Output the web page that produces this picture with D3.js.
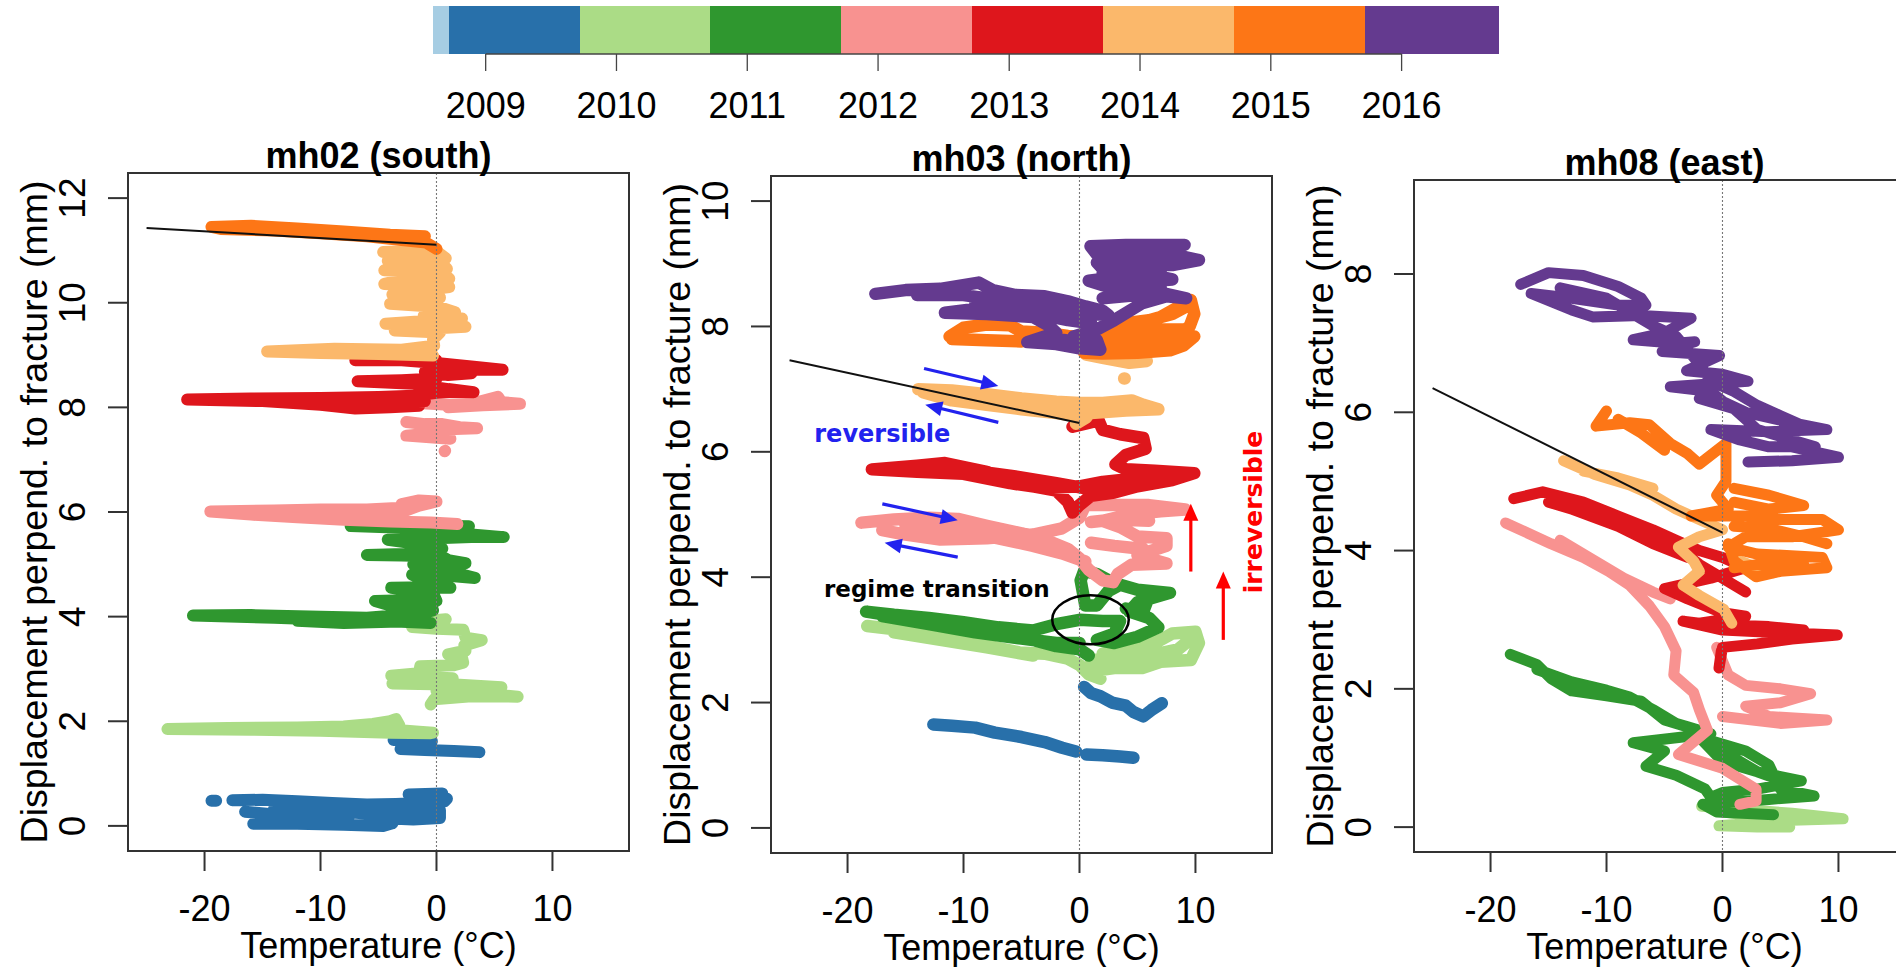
<!DOCTYPE html>
<html>
<head>
<meta charset="utf-8">
<script src="https://cdn.jsdelivr.net/npm/d3@7"></script>
<style>
  html, body { margin: 0; padding: 0; background: #fff; }
  svg { display: block; }
</style>
</head>
<body>
<svg id="chart" width="1896" height="967"></svg>
<script>
// ---------------- data ----------------
const years = [2009, 2010, 2011, 2012, 2013, 2014, 2015, 2016];
const yearColors = ["#2870aa", "#abdc86", "#2f972f", "#f89290", "#de161c", "#fbb86b", "#fd7616", "#643a8f"];
const preSeasonColor = "#a6cde3";
const recordStart = new Date(2008, 7, 7);
const recordEnd = new Date(2016, 8, 26);
const seasonMonth = 8, seasonDay = 20;   // measurement seasons start around 20 September

const panelTitles = ["mh02 (south)", "mh03 (north)", "mh08 (east)"];
const xLim = [-25, 15];
const xTicks = [-20, -10, 0, 10];
const yLims = [[0, 12], [0, 10], [0, 9]];
const yTicks = [[0, 2, 4, 6, 8, 10, 12], [0, 2, 4, 6, 8, 10], [0, 2, 4, 6, 8]];
const xTitle = "Temperature (°C)";
const yTitle = "Displacement perpend. to fracture (mm)";

// [temperature °C, displacement mm]; null separates recording gaps
const mh02 = [
  [[-19.4,0.48],[-19.0,0.48], null,
   [-17.6,0.49],[-15,0.5],[-12,0.47],[-9,0.44],[-6,0.41],[-3.5,0.42],[-1,0.44],[0.7,0.47],[0.9,0.52],[-1,0.57],[-2.4,0.6],[0.5,0.62], null,
   [-16.5,0.27],[-14,0.22],[-11,0.2],[-8,0.19],[-7.5,0.2],[-8.5,0.3],[-11,0.35],[-13.5,0.4],[-11,0.42],[-9,0.4],[-7,0.35],[-5,0.3],[-4,0.34],[-1,0.33],[0.3,0.3],[0.3,0.15],[-2,0.12],[-4,0.14],[-3.8,0.05],[-4.6,0.0],[-8,0.02],[-12,0.04],[-15.8,0.04], null,
   [-14,0.33],[-12,0.3],[-9,0.28],[-7,0.25],[-5,0.22],[-3,0.22],[-1,0.22], null,
   [-3.7,1.64],[-1.5,1.64],[-0.4,1.62],[-0.6,1.52],[-2,1.48],[-3.1,1.47],[-1,1.45],[1.5,1.43],[3.7,1.41]],
  [[-0.5,1.77],[-4,1.78],[-10,1.82],[-16,1.84],[-23.2,1.85],[-18,1.87],[-12,1.88],[-8,1.9],[-5.5,1.95],[-4,2.0],[-3.5,2.04],[-3.2,1.92],[-4.5,1.85],[-1.5,1.8],[-0.3,1.78], null,
   [-0.5,2.32],[-0.2,2.42],[3,2.48],[7,2.47],[3,2.55],[0,2.58],[4,2.63],[5.6,2.65],[2,2.7],[-3.8,2.72],[-1,2.78],[1.4,2.82],[-3.9,2.87],[-1.5,2.92],[-1.4,3.05],[1.5,3.07],[2.3,3.12],[2.2,3.22],[1,3.28],[2.5,3.35],[2.4,3.45],[3.9,3.55],[2.5,3.6],[2.3,3.75],[0,3.77],[-2.1,3.8],[-0.5,3.85],[-0.2,3.93],[0.8,3.95]],
  [[-0.5,3.88],[-3,3.9],[-8,3.93],[-14,3.98],[-21,4.02],[-16,4.03],[-10,4.0],[-6,3.98],[-3,4.03],[-1,4.08],[-0.3,4.12],[-3,4.15],[-5.3,4.3],[-2,4.32],[0,4.3],[-0.3,4.45],[-3.9,4.55],[-1,4.56],[1.2,4.55],[-0.5,4.65],[-2.1,4.8],[1,4.78],[3.3,4.74],[0.5,4.9],[-2,5.0],[0,5.02],[2.5,5.02],[1,5.08],[0.5,5.15],[-3,5.17],[-6,5.18],[-2,5.2],[0.5,5.3],[-2,5.4],[-4.2,5.47],[0,5.5],[3,5.52],[5.8,5.52],[3,5.57],[2,5.62],[-3,5.7],[-7.4,5.73],[-3,5.74],[2.8,5.73], null,
   [-12,3.92],[-8,3.88],[-4,3.9],[-1.5,3.95]],
  [[1.8,5.77],[-0.5,5.8],[-4,5.82],[-8,5.85],[-12,5.9],[-16,5.95],[-19.5,6.01],[-14,6.03],[-10,6.05],[-6,6.05],[-3,6.08],[-3,6.15],[-1.5,6.22],[0,6.2],[-1.5,6.12],[-3,6.0],[-6,5.95],[-10,5.92], null,
   [-2.6,7.72],[-1,7.68],[0.5,7.68],[2,7.62],[3.5,7.6],[1,7.58],[0.5,7.52],[-2.6,7.46],[0,7.42],[1.2,7.4], null,
   [0.7,7.16],[0.75,7.17], null,
   [-1.2,8.08],[1,8.05],[3,8.07],[5.3,8.2],[5.6,8.1],[7.2,8.07],[4,8.04],[1,8.0]],
  [[-1.5,8.03],[-4,8.0],[-7,7.98],[-10,8.05],[-15,8.12],[-21.5,8.15],[-16,8.17],[-10,8.18],[-5,8.2],[-2,8.22],[0,8.28],[1.5,8.3],[3.2,8.29],[1,8.35],[-2,8.45],[-6.8,8.5],[-3,8.52],[0,8.55],[-1,8.62],[0.5,8.7],[3,8.72],[5.7,8.72],[3,8.78],[0,8.85],[-3,8.9],[-7,8.9],[-3,8.93],[0,8.9], null,
   [-7,8.1],[-4,8.1],[-1,8.12], null, [-1,8.68],[1,8.62],[3,8.65]],
  [[-0.5,11.0],[-4.6,10.97],[0.2,10.95],[0.8,10.85],[-4.2,10.8],[0.4,10.76],[0.9,10.65],[-4.5,10.62],[0.6,10.56],[1.1,10.46],[-2.5,10.46],[-4.5,10.36],[1.1,10.3],[-3.8,10.16],[0.3,10.1],[-4,9.98],[0.2,9.92],[1.6,9.82],[-1.1,9.75],[2.2,9.7],[-4.4,9.6],[2.5,9.54],[-3.6,9.47],[0.3,9.43],[-0.3,9.3],[-0.2,9.18],[-3,9.1],[-8.8,9.12],[-14.6,9.07],[-10,9.04],[-5,9.02],[-0.3,8.99]],
  [[0,11.03],[-0.9,11.15],[-3,11.2],[-6,11.27],[-10,11.33],[-14,11.38],[-18.6,11.41],[-19.4,11.45],[-16,11.47],[-12,11.42],[-8,11.36],[-4,11.3],[-1,11.27]],
  []
];

const mh03 = [
  [[-12.6,1.65],[-11,1.63],[-9,1.6],[-7.3,1.52],[-5,1.45],[-3,1.37],[-1.5,1.28],[-0.3,1.22], null,
   [0.6,1.17],[2,1.16],[3.5,1.14],[4.65,1.12], null,
   [0.4,2.25],[1,2.15],[1.8,2.1],[2.8,2.0],[4,1.95],[4.65,1.85],[5.5,1.78],[6.2,1.88],[7.1,1.99]],
  [[-18.3,3.22],[-15,3.15],[-12,3.05],[-9,2.95],[-5.2,2.8],[-3,2.78],[-1,2.7],[0,2.6],[0.8,2.45],[1.8,2.38],[1,2.5],[3,2.55],[5.4,2.55],[7,2.65],[9.6,2.68],[10.3,2.95],[10,3.13],[8,3.1],[6,2.9],[4,2.8],[2,2.78],[4,2.85],[7,3.0], null,
   [-16,3.12],[-12,3.0],[-8,2.88],[-4,2.75], null, [1,2.68],[3,2.7],[6,2.75],[8.5,2.85],[9.5,3.0]],
  [[0.8,2.75],[0,2.85],[-2,2.9],[-4,3.0],[-6,3.08],[-9,3.2],[-12,3.28],[-15,3.35],[-18.4,3.45],[-16,3.4],[-13,3.35],[-10,3.28],[-7,3.2],[-4,3.15],[-2,3.25],[0,3.32],[2,3.3],[3.5,3.3],[3,3.1],[1.5,3.0],[3,2.95],[5,3.05],[6.8,3.2],[6,3.35],[4.3,3.45],[5,3.6],[7.8,3.75],[5,3.8],[3.5,3.88],[2.5,3.78],[1.5,3.55],[0.5,3.55],[0.3,3.75],[0.1,3.95],[0.4,4.1],[1.5,4.05],[2.5,3.95], null,
   [-17,3.38],[-13,3.25],[-9,3.12],[-5,3.02],[-2,2.95],[0,2.95], null, [4,3.5],[5.5,3.45],[6,3.7]],
  [[-18.8,4.87],[-16,4.92],[-13,4.95],[-10.5,4.93],[-8,4.82],[-5,4.7],[-3,4.6],[-1,4.45],[0,4.3],[0.8,4.12],[2,3.95],[2.9,3.92],[3.3,4.05],[4.5,4.2],[7.5,4.22],[5,4.35],[7.5,4.5],[7.5,4.62],[5,4.65],[3.5,4.8],[2,4.9],[4.3,5.0],[7,5.05],[9.1,5.08],[6,5.15],[3,5.15],[0.5,5.15],[0,4.95],[-1.5,4.78],[-4,4.68],[-8,4.62],[-12,4.6],[-15,4.68],[-17,4.75], null,
   [-15,4.82],[-11,4.75],[-7,4.62],[-4,4.5],[-1.5,4.38],[0.5,4.25], null, [1,4.55],[3,4.5],[5.5,4.45], null, [1,4.88],[3,4.92],[6,4.9]],
  [[-0.6,6.4],[0.5,6.45],[1.65,6.5],[2,6.35],[3.5,6.28],[5.5,6.22],[5.7,6.05],[4,5.95],[3.1,5.8],[4,5.72],[6.5,5.7],[9.9,5.66],[8,5.55],[5,5.45],[3,5.35],[1,5.3],[0,5.15],[-0.6,5.03],[-1,5.2],[-2,5.38],[-4,5.45],[-6.3,5.55],[-8,5.68],[-11.6,5.82],[-14,5.78],[-17.9,5.72],[-14,5.68],[-10,5.65],[-6,5.5],[-3,5.42],[0,5.45],[2,5.52],[5,5.58], null,
   [-15,5.75],[-10,5.72],[-6,5.62],[-2,5.5],[1,5.4],[4,5.45],[7,5.6]],
  [[-13.9,7.0],[-11,6.98],[-8,6.92],[-5,6.85],[-2,6.8],[0,6.78],[2,6.78],[4.5,6.82],[5.5,6.75],[6.8,6.68],[4,6.66],[1,6.62],[0,6.5],[-0.3,6.45],[0.6,6.55],[-2,6.62],[-5,6.68],[-8,6.75],[-11,6.82],[-13.5,6.95], null,
   [-11,6.9],[-7,6.82],[-3,6.72],[1,6.7],[4,6.72], null,
   [0.6,7.55],[2,7.5],[4.3,7.42],[5.8,7.45], null,
   [3.85,7.17],[3.9,7.17]],
  [[-11.2,7.84],[-10,7.98],[-8,8.03],[-6,8.02],[-5,7.92],[-3,7.9],[-1,7.85],[1.5,7.8],[3,7.9],[6,7.88],[9.9,7.84],[9,7.7],[7.8,7.62],[5,7.58],[2,7.57],[0.4,7.58],[2,7.7],[5,7.75],[8,7.8],[9.5,8.0],[9.9,8.2],[9.6,8.42],[7,8.15],[5,8.0],[3,7.95], null,
   [-11,7.8],[-8,7.78],[-5,7.76], null,
   [2,7.68],[5,7.66],[8,7.7], null, [4,8.05],[6,8.1],[8,8.2],[9,8.3], null, [4,7.85],[7,7.95],[9,7.95]],
  [[-17.6,8.52],[-15,8.58],[-12,8.6],[-8.7,8.7],[-7.5,8.58],[-5.5,8.5],[-3,8.48],[-1,8.4],[0.5,8.32],[2,8.25],[2.5,8.18],[0,8.22],[-2,8.3],[-4.5,8.32],[-7,8.3],[-9,8.28],[-11.6,8.22],[-8,8.2],[-4,8.15],[-2.7,8.02],[-2,7.9],[-4.5,7.75],[-2,7.72],[0,7.65],[1.8,7.63],[1.5,7.78],[-0.5,7.84],[1.5,7.95],[3,8.1],[5.4,8.37],[7.5,8.48],[9.2,8.45],[6,8.58],[3,8.6],[0.8,8.73],[3,8.78],[6,8.72],[8,8.75],[5.5,8.85],[2,8.92],[1.5,9.02],[5,9.0],[8,8.98],[10.3,9.06],[8,9.15],[3,9.12],[1.5,9.15],[0.95,9.28],[4,9.3],[9.06,9.3], null,
   [-14,8.5],[-10,8.5],[-6,8.4],[-3,8.35],[0,8.2], null, [-9,8.4],[-5,8.25],[-1,8.1],[1,8.05], null,
   [-2,7.8],[0,7.75],[1,7.72], null, [2,8.45],[5,8.5],[7,8.62], null, [2,8.85],[5,8.9],[7,8.88], null, [2,9.2],[5,9.2],[8,9.22]]
];

const mh08 = [
  [],
  [[-1.8,0.3],[2,0.25],[6,0.2],[10.4,0.12],[6,0.1],[2,0.05],[-0.3,0.02],[3,0.0],[5.8,0.0], null, [0,0.22],[3,0.15],[6,0.12]],
  [[-18.3,2.5],[-16,2.35],[-14.8,2.15],[-13,1.97],[-10,1.9],[-7,1.82],[-5,1.55],[-3,1.45],[-1,1.35],[-7.7,1.22],[-5,1.1],[-6.6,0.88],[-4,0.75],[-1.5,0.55],[-1,0.43],[0,0.5],[3,0.55],[6.8,0.67],[3,0.8],[0,0.95],[-2,1.3],[2,1.1],[4,0.9],[5,0.55],[7.9,0.45],[4,0.4],[0,0.35],[-1.7,0.33],[-0.5,0.22],[4.4,0.18], null,
   [-16,2.28],[-13,2.1],[-10,1.98],[-8,1.88],[-6,1.7],[-4,1.5], null, [-1,1.2],[1,1.0],[3,0.8],[5,0.68]],
  [[-18.7,4.4],[-14.8,4.1],[-12,3.9],[-9.8,3.7],[-8,3.5],[-6.3,3.2],[-5,2.9],[-4,2.55],[-4.2,2.2],[-2.5,1.95],[-2,1.7],[-1.3,1.4],[-3.8,1.05],[0,0.85],[2.9,0.55],[2.9,0.38],[1.5,0.33], null,
   [-0.5,2.6],[0,2.4],[0.5,2.2],[2,2.05],[5,2.0],[7.6,1.93],[5,1.8],[2,1.75],[4,1.6],[9,1.55],[5,1.5],[0,1.6], null,
   [-14,4.15],[-11,3.85],[-8.5,3.6],[-6,3.4],[-4.5,3.3]],
  [[-18,4.75],[-15.5,4.85],[-12,4.7],[-9,4.5],[-6,4.3],[-4,4.15],[-2,4.0],[0,3.9],[2,3.75],[-1,3.6],[-5,3.45],[-3,3.3],[0,3.1],[2,3.05],[-2,2.95],[-3.4,2.98],[0,2.85],[4,2.82],[9.9,2.78],[6,2.72],[3,2.65],[0,2.6],[-0.3,2.3],[-0.1,2.55], null,
   [-15,4.7],[-10,4.45],[-5,4.2],[-2,3.8],[2,3.4], null, [-13,4.6],[-9,4.35],[-6,4.1],[-3,3.9], null, [1,2.92],[4,2.9],[7,2.85]],
  [[-13.7,5.3],[-11,5.1],[-8,4.95],[-6,4.8],[-4,4.6],[-2,4.45],[0,4.3],[-2,4.2],[-3.8,4.05],[-2.5,3.85],[-2,3.7],[-3.4,3.5],[-2,3.35],[0.1,3.15],[0.8,2.95], null,
   [1.5,3.85],[3,3.75],[4.4,3.68], null, [-12,5.15],[-9,5.05],[-6,4.9]],
  [[-10,6.02],[-10.9,5.8],[-8,5.85],[-6.3,5.82],[-4.5,5.55],[-3,5.4],[-2,5.25],[0.3,5.55],[0.3,5.0],[-0.5,4.8],[0.5,4.6],[-2.7,4.5],[2,4.5],[5,4.45],[8.6,4.45],[10,4.3],[6,4.2],[2,4.2],[0.5,4.05],[3,3.95],[8.6,3.9],[9,3.75],[5,3.7],[2.9,3.62],[1,3.85],[0.5,4.1], null,
   [1,4.9],[4,4.8],[7,4.65],[4,4.6],[1,4.7], null, [1,4.35],[4,4.32],[7,4.2],[9,4.1], null, [1,3.75],[4,3.82],[7,3.8], null, [-9,5.9],[-7,5.7],[-5,5.45]],
  [[-17.4,7.85],[-15,8.02],[-12,7.98],[-9,7.82],[-7,7.65],[-6.6,7.55],[-9,7.55],[-13,7.65],[-16.5,7.72],[-13,7.48],[-11.2,7.38],[-7,7.4],[-2.7,7.36],[-5,7.15],[-7.7,7.05],[-4,7.0],[-2.4,7.02],[-5.2,6.88],[-0.25,6.82],[-3.1,6.6],[0,6.55],[2.2,6.45],[-4.5,6.37],[-1,6.3],[0.1,6.15],[2,6.0],[5.1,5.88],[9,5.75],[4,5.72],[-1,5.75],[1.5,5.6],[4,5.5],[6,5.5],[10,5.35],[6,5.3],[2.2,5.28], null,
   [-14,7.8],[-10,7.65],[-8,7.45],[-6,7.25],[-4,7.1],[-3,6.9],[-2,6.7],[-1,6.45],[1,6.3],[3,6.1],[5,5.95],[7,5.8], null,
   [-2,6.2],[1,6.05],[3,5.75],[6,5.6],[8,5.5]]
];

// linear fits of displacement against sub-zero temperature
const fitLines = [
  [[-25, 11.43], [0, 11.11]],
  [[-25, 7.46], [0, 6.46]],
  [[-25, 6.35], [0, 4.26]]
];

// annotations on mh03
const reversibleArrows = [
  [[-13.4, 7.33], [-7.0, 7.05]],
  [[-7.0, 6.47], [-13.3, 6.75]],
  [[-17.0, 5.17], [-10.5, 4.91]],
  [[-10.5, 4.32], [-16.8, 4.55]]
];
const irreversibleArrows = [
  [[9.6, 4.09], [9.6, 5.17]],
  [[12.4, 3.0], [12.4, 4.09]]
];
const reversibleLabel = { text: "reversible", at: [-17.0, 6.15] };
const transitionLabel = { text: "regime transition", at: [-12.3, 3.68] };
const irreversibleLabel = { text: "irreversible", at: [15.7, 5.04] };
const transitionEllipse = { center: [0.95, 3.32], radius: [3.3, 0.39] };

// ---------------- drawing ----------------
const FONT = '"Liberation Sans", Arial, Helvetica, sans-serif';
const ANNO_FONT = '"DejaVu Sans", Verdana, sans-serif';
const svg = d3.select("#chart");

// colour bar of measurement seasons
const tScale = d3.scaleTime().domain([recordStart, recordEnd]).range([433, 1498]);
const seasonBlocks = [{ from: recordStart, to: new Date(years[0] - 1, seasonMonth, seasonDay), color: preSeasonColor }]
  .concat(years.map((yr, i) => ({
    from: new Date(yr - 1, seasonMonth, seasonDay),
    to: i === years.length - 1 ? recordEnd : new Date(yr, seasonMonth, seasonDay),
    color: yearColors[i]
  })));
const cbar = svg.append("g");
cbar.selectAll("rect").data(seasonBlocks).join("rect")
  .attr("x", d => tScale(d.from))
  .attr("width", d => tScale(d.to) - tScale(d.from) + 0.5)
  .attr("y", 6).attr("height", 48)
  .attr("fill", d => d.color)
  .attr("shape-rendering", "crispEdges");
const tickDates = years.map(y => new Date(y, 0, 1));
const cbAxis = cbar.append("g").attr("transform", "translate(0,54)");
cbAxis.append("line")
  .attr("x1", tScale(tickDates[0])).attr("x2", tScale(tickDates[tickDates.length - 1]))
  .attr("stroke", "#444").attr("stroke-width", 1.3);
cbAxis.selectAll("line.tick").data(tickDates).join("line").attr("class", "tick")
  .attr("x1", d => tScale(d)).attr("x2", d => tScale(d))
  .attr("y1", 0).attr("y2", 17)
  .attr("stroke", "#444").attr("stroke-width", 1.3);
cbAxis.selectAll("text").data(tickDates).join("text")
  .attr("x", d => tScale(d)).attr("y", 64)
  .attr("text-anchor", "middle")
  .style("font-family", FONT).style("font-size", "36px").attr("fill", "#000")
  .text(d3.timeFormat("%Y"));

// scatter panels
const panelLayout = [
  { left: 128, top: 173, bottom: 851, lw: 12 },
  { left: 771, top: 176, bottom: 853, lw: 12.5 },
  { left: 1414, top: 180, bottom: 852, lw: 11 }
];
const panelSeries = [mh02, mh03, mh08];
const boxWidth = 501;

const scalesByPanel = panelLayout.map((L, p) => {
  const xPad = 0.04 * (xLim[1] - xLim[0]);
  const yl = yLims[p];
  const yPad = 0.04 * (yl[1] - yl[0]);
  const x = d3.scaleLinear().domain([xLim[0] - xPad, xLim[1] + xPad]).range([L.left, L.left + boxWidth]);
  const y = d3.scaleLinear().domain([yl[0] - yPad, yl[1] + yPad]).range([L.bottom, L.top]);
  return { x, y };
});

panelLayout.forEach((L, p) => {
  const { x, y } = scalesByPanel[p];
  const g = svg.append("g");
  const clipId = "clip" + p;
  g.append("clipPath").attr("id", clipId).append("rect")
    .attr("x", L.left).attr("y", L.top)
    .attr("width", boxWidth).attr("height", L.bottom - L.top);

  const line = d3.line().defined(d => d !== null).x(d => x(d[0])).y(d => y(d[1]));
  const plot = g.append("g").attr("clip-path", `url(#${clipId})`);
  plot.selectAll("path.track").data(panelSeries[p]).join("path").attr("class", "track")
    .attr("d", d => d.length ? line(d) : null)
    .attr("fill", "none")
    .attr("stroke", (d, i) => yearColors[i])
    .attr("stroke-width", L.lw)
    .attr("stroke-linecap", "round")
    .attr("stroke-linejoin", "round");

  // zero-degree reference
  plot.append("line")
    .attr("x1", x(0)).attr("x2", x(0))
    .attr("y1", L.top).attr("y2", L.bottom)
    .attr("stroke", "#777").attr("stroke-width", 1.1)
    .attr("stroke-dasharray", "2,2");

  // linear fit
  plot.append("path")
    .attr("d", d3.line().x(d => x(d[0])).y(d => y(d[1]))(fitLines[p]))
    .attr("stroke", "#111").attr("stroke-width", 2).attr("fill", "none");

  // frame
  g.append("rect")
    .attr("x", L.left).attr("y", L.top)
    .attr("width", boxWidth).attr("height", L.bottom - L.top)
    .attr("fill", "none").attr("stroke", "#333").attr("stroke-width", 2);

  // x axis
  const xa = g.append("g");
  xa.append("line")
    .attr("x1", x(xTicks[0])).attr("x2", x(xTicks[xTicks.length - 1]))
    .attr("y1", L.bottom).attr("y2", L.bottom)
    .attr("stroke", "#333").attr("stroke-width", 2);
  xa.selectAll("line.tick").data(xTicks).join("line").attr("class", "tick")
    .attr("x1", d => x(d)).attr("x2", d => x(d))
    .attr("y1", L.bottom).attr("y2", L.bottom + 20)
    .attr("stroke", "#333").attr("stroke-width", 2);
  xa.selectAll("text").data(xTicks).join("text")
    .attr("x", d => x(d)).attr("y", L.bottom + 70)
    .attr("text-anchor", "middle")
    .style("font-family", FONT).style("font-size", "36px").attr("fill", "#000")
    .text(d => d);
  g.append("text")
    .attr("x", L.left + boxWidth / 2).attr("y", L.bottom + 107)
    .attr("text-anchor", "middle")
    .style("font-family", FONT).style("font-size", "36px").attr("fill", "#000")
    .text(xTitle);

  // y axis
  const ya = g.append("g");
  const yt = yTicks[p];
  ya.append("line")
    .attr("x1", L.left).attr("x2", L.left)
    .attr("y1", y(yt[0])).attr("y2", y(yt[yt.length - 1]))
    .attr("stroke", "#333").attr("stroke-width", 2);
  ya.selectAll("line.tick").data(yt).join("line").attr("class", "tick")
    .attr("x1", L.left - 20).attr("x2", L.left)
    .attr("y1", d => y(d)).attr("y2", d => y(d))
    .attr("stroke", "#333").attr("stroke-width", 2);
  ya.selectAll("text").data(yt).join("text")
    .attr("transform", d => `translate(${L.left - 43},${y(d)}) rotate(-90)`)
    .attr("text-anchor", "middle")
    .style("font-family", FONT).style("font-size", "37px").attr("fill", "#000")
    .text(d => d);
  g.append("text")
    .attr("transform", `translate(${L.left - 81},${(L.top + L.bottom) / 2}) rotate(-90)`)
    .attr("text-anchor", "middle")
    .style("font-family", FONT).style("font-size", "37.5px").attr("fill", "#000")
    .text(yTitle);

  // title
  g.append("text")
    .attr("x", L.left + boxWidth / 2).attr("y", L.top - 5)
    .attr("text-anchor", "middle")
    .style("font-family", FONT).style("font-size", "36px").style("font-weight", "bold")
    .attr("fill", "#000")
    .text(panelTitles[p]);
});

// annotations on the mh03 panel
(function annotate() {
  const { x, y } = scalesByPanel[1];
  const a = svg.append("g");

  function arrow(seg, color) {
    const x1 = x(seg[0][0]), y1 = y(seg[0][1]);
    const x2 = x(seg[1][0]), y2 = y(seg[1][1]);
    const ang = Math.atan2(y2 - y1, x2 - x1);
    const headLen = 17, headHalf = 7.5;
    const bx = x2 - headLen * Math.cos(ang), by = y2 - headLen * Math.sin(ang);
    a.append("line")
      .attr("x1", x1).attr("y1", y1).attr("x2", bx + 2 * Math.cos(ang)).attr("y2", by + 2 * Math.sin(ang))
      .attr("stroke", color).attr("stroke-width", 3.2);
    const pts = [
      [x2, y2],
      [bx + headHalf * Math.sin(ang), by - headHalf * Math.cos(ang)],
      [bx - headHalf * Math.sin(ang), by + headHalf * Math.cos(ang)]
    ];
    a.append("path").attr("d", "M" + pts.map(q => q.join(",")).join("L") + "Z").attr("fill", color);
  }
  reversibleArrows.forEach(s => arrow(s, "#2222ee"));
  irreversibleArrows.forEach(s => arrow(s, "#ff0000"));

  a.append("text")
    .attr("x", x(reversibleLabel.at[0])).attr("y", y(reversibleLabel.at[1]))
    .attr("text-anchor", "middle")
    .style("font-family", ANNO_FONT).style("font-size", "24px").style("font-weight", "bold")
    .attr("fill", "#2222ee")
    .text(reversibleLabel.text);

  a.append("text")
    .attr("x", x(transitionLabel.at[0])).attr("y", y(transitionLabel.at[1]))
    .attr("text-anchor", "middle")
    .style("font-family", ANNO_FONT).style("font-size", "23px").style("font-weight", "bold")
    .attr("fill", "#000")
    .text(transitionLabel.text);

  a.append("text")
    .attr("transform", `translate(${x(irreversibleLabel.at[0])},${y(irreversibleLabel.at[1])}) rotate(-90)`)
    .attr("text-anchor", "middle")
    .style("font-family", ANNO_FONT).style("font-size", "25px").style("font-weight", "bold")
    .attr("fill", "#ff0000")
    .text(irreversibleLabel.text);

  const e = transitionEllipse;
  a.append("ellipse")
    .attr("cx", x(e.center[0])).attr("cy", y(e.center[1]))
    .attr("rx", x(e.center[0] + e.radius[0]) - x(e.center[0]))
    .attr("ry", y(e.center[1]) - y(e.center[1] + e.radius[1]))
    .attr("fill", "none").attr("stroke", "#000").attr("stroke-width", 2.5);
})();
</script>
</body>
</html>
